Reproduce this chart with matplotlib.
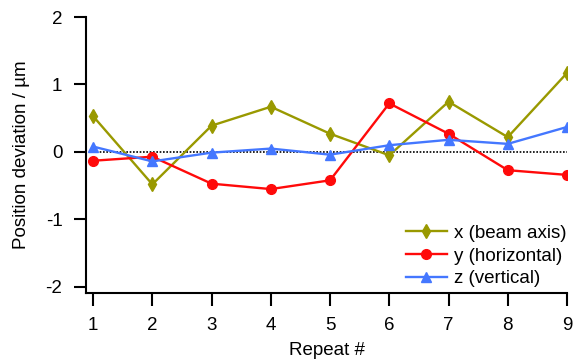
import matplotlib
matplotlib.use("Agg")
import matplotlib.pyplot as plt

repeats = [1, 2, 3, 4, 5, 6, 7, 8, 9]
x_beam = [0.53, -0.48, 0.39, 0.67, 0.27, -0.05, 0.745, 0.22, 1.17]
y_horiz = [-0.13, -0.07, -0.47, -0.55, -0.42, 0.72, 0.27, -0.27, -0.34]
z_vert = [0.08, -0.14, -0.01, 0.05, -0.04, 0.10, 0.18, 0.12, 0.37]
labels = ["x (beam axis)", "y (horizontal)", "z (vertical)"]

plt.rcParams['font.family'] = ['Liberation Sans', 'DejaVu Sans']

fig = plt.figure(figsize=(5.74, 3.6), dpi=100)
ax = fig.add_axes([86/574, 1-293/360, (567-86)/574, (293-17)/360])

ax.plot([1, 9], [0, 0], color='black', linestyle=(0, (1, 1)), linewidth=1.2, zorder=1)
ax.plot(repeats, x_beam, color='#999900', marker='d', markersize=7, linewidth=1.7, label=labels[0], zorder=3)
ax.plot(repeats, y_horiz, color='#ff0a0a', marker='o', markersize=7, linewidth=1.7, label=labels[1], zorder=3)
ax.plot(repeats, z_vert, color='#4477ff', marker='^', markersize=7, linewidth=1.7, label=labels[2], zorder=3)

ax.set_xlim(0.88, 9.0)
ax.set_ylim(-2.09, 2.0)
ax.set_xticks(repeats)
ax.set_yticks([-2, -1, 0, 1, 2])
ax.set_yticklabels(['-2', '-1', '0', '1', '2'])
for s in ['top', 'right']:
    ax.spines[s].set_visible(False)
for s in ['left', 'bottom']:
    ax.spines[s].set_linewidth(1.5)
ax.tick_params(axis='both', direction='out', length=9, width=1.5, labelsize=13.5, pad=8)

ax.set_xlabel('Repeat #', fontsize=13.5, labelpad=6)
ax.set_ylabel('Position deviation / µm', fontsize=13.5, labelpad=11)

leg = ax.legend(loc='lower right', frameon=False, fontsize=13.5, handlelength=2.2,
                handletextpad=0.4, labelspacing=0.3, borderaxespad=0.0, borderpad=0.0,
                bbox_to_anchor=(1.0, 0.02))

fig.savefig('out.png', dpi=100)
